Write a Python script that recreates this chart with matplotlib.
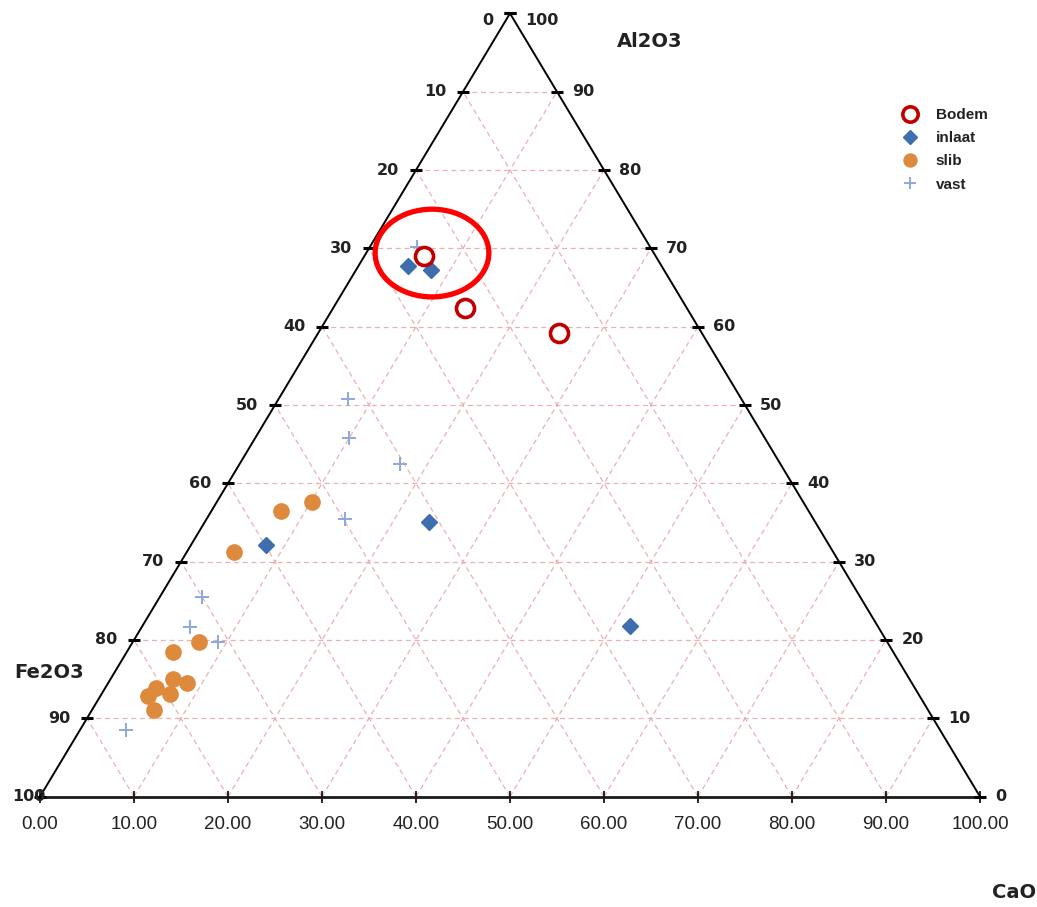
import matplotlib
matplotlib.use("Agg")
import matplotlib.pyplot as plt
from matplotlib.patches import Ellipse
import numpy as np

# composition in % (Fe2O3 = 100 - Al2O3 - CaO)
bodem_al2o3 = [69.0, 62.4, 59.2]
bodem_cao = [6.4, 14.0, 25.6]

inlaat_al2o3 = [67.7, 67.3, 32.1, 35.0, 21.8]
inlaat_cao = [5.3, 7.9, 8.0, 23.9, 51.9]

slib_al2o3 = [36.5, 37.6, 31.2, 19.8, 18.4, 15.0, 14.5, 13.9, 12.8, 13.1, 11.1]
slib_cao = [7.4, 10.1, 5.0, 7.0, 5.0, 6.6, 8.4, 5.4, 5.1, 7.3, 6.6]

vast_al2o3 = [70.2, 50.8, 45.8, 42.5, 35.5, 25.5, 21.7, 19.7, 8.5]
vast_cao = [5.0, 7.4, 10.0, 17.0, 14.7, 4.5, 5.1, 9.1, 4.9]

grid_levels = [10, 20, 30, 40, 50, 60, 70, 80, 90]
edge_ticks = [0, 10, 20, 30, 40, 50, 60, 70, 80, 90, 100]

# highlight ring round the top cluster (Al2O3, CaO, width, height in plot units)
ring_al2o3, ring_cao = 69.4, 7.0
ring_w, ring_h = 12.1, 11.2


def to_xy(al2o3, cao):
    al2o3 = np.asarray(al2o3, dtype=float)
    cao = np.asarray(cao, dtype=float)
    return cao + al2o3 / 2, al2o3


W, H = 1037, 907
fig = plt.figure(figsize=(W / 100, H / 100), dpi=100)
ax = fig.add_axes([40 / W, (H - 796.6) / H, 940 / W, 783.2 / H])
ax.set_xlim(0, 100)
ax.set_ylim(0, 100)

grid_kw = dict(color="#EBB0B0", lw=0.9, ls=(0, (4, 3)), zorder=1)
for k in grid_levels:
    # constant Al2O3
    ax.plot([k / 2, 100 - k / 2], [k, k], **grid_kw)
    # constant CaO
    ax.plot([k, k + (100 - k) / 2], [0, 100 - k], **grid_kw)
    # constant Fe2O3
    ax.plot([k, k / 2], [0, k], **grid_kw)

# triangle edges
ax.plot([0, 50, 100], [0, 100, 0], color="black", lw=1.4, zorder=2, clip_on=False)

num_font = dict(fontsize=11.5, fontweight="bold", color="#222222", family="DejaVu Sans")
for t in edge_ticks:
    lx, ly = t / 2, t
    rx, ry = 100 - t / 2, t
    ax.plot([lx, rx], [ly, ry], ls="none", marker="_", ms=8, mew=2.2,
            color="black", zorder=3, clip_on=False)
    dy = -5 if t == 100 else 0
    if t == 0:
        ax.annotate("100", (lx, ly), xytext=(-20, 0), textcoords="offset points",
                    ha="left", va="center", **num_font)
    else:
        ax.annotate(str(100 - t), (lx, ly), xytext=(-12, dy), textcoords="offset points",
                    ha="right", va="center", **num_font)
    ax.annotate(str(t), (rx, ry), xytext=(11, dy), textcoords="offset points",
                ha="left", va="center", **num_font)

# bottom axis (CaO scale)
for s in ["left", "right", "top"]:
    ax.spines[s].set_visible(False)
ax.spines["bottom"].set_linewidth(2)
ax.spines["bottom"].set_color("#1a1a1a")
ax.set_yticks([])
ax.set_xticks(edge_ticks)
ax.set_xticklabels([f"{t:.2f}" for t in edge_ticks])
ax.tick_params(axis="x", direction="inout", length=9, width=1.2, pad=9.5,
               labelsize=13.5, labelcolor="#222222")
for lab in ax.get_xticklabels():
    lab.set_family("Liberation Sans")

# data series
x, y = to_xy(bodem_al2o3, bodem_cao)
ax.plot(x, y, ls="none", marker="o", ms=13, mfc="white", mec="#C00000", mew=2.6,
        label="Bodem", zorder=5, clip_on=False)
x, y = to_xy(inlaat_al2o3, inlaat_cao)
ax.plot(x, y, ls="none", marker="D", ms=7.8, color="#3E6EAE", mec="#3E6EAE",
        label="inlaat", zorder=4, clip_on=False)
x, y = to_xy(slib_al2o3, slib_cao)
ax.plot(x, y, ls="none", marker="o", ms=11, color="#DE8A3D", mec="#DE8A3D",
        label="slib", zorder=4, clip_on=False)
x, y = to_xy(vast_al2o3, vast_cao)
ax.plot(x, y, ls="none", marker="+", ms=10, mew=1.4, color="#8DA9DB",
        label="vast", zorder=4, clip_on=False)

rx, ry = to_xy(ring_al2o3, ring_cao)
ax.add_patch(Ellipse((rx, ry), ring_w, ring_h, fill=False, ec="#FF0000", lw=3.8,
                     zorder=6, clip_on=False))

# component names
title_font = dict(fontsize=14, fontweight="bold", color="#222222", family="DejaVu Sans")
ax.text(64.9, 96.4, "Al2O3", ha="center", va="center", **title_font)
ax.text(1.0, 15.9, "Fe2O3", ha="center", va="center", **title_font)
ax.text(106.0, -12.3, "CaO", ha="right", va="center", clip_on=False, **title_font)

leg = fig.legend(loc="upper left", bbox_to_anchor=(0.855, 0.896), frameon=False,
                 handlelength=1.2, handletextpad=1.1, labelspacing=0.6, markerscale=0.85,
                 prop=dict(family="Liberation Sans", weight="bold", size=11))
for txt in leg.get_texts():
    txt.set_color("#222222")

fig.savefig("out.png", dpi=100)
